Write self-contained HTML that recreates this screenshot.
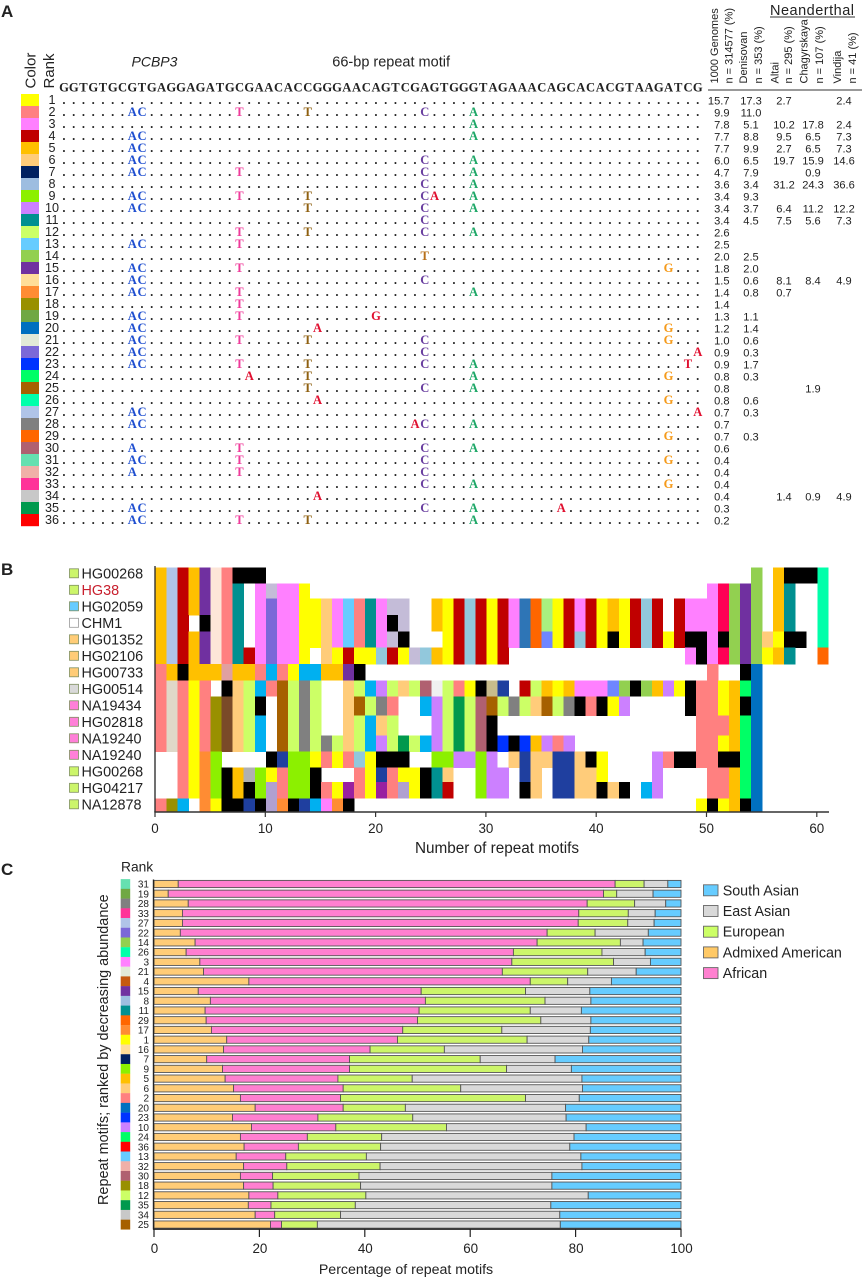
<!DOCTYPE html>
<html lang="en">
<head>
<meta charset="utf-8">
<title>PCBP3 66-bp repeat motif figure</title>
<style>
html,body{margin:0;padding:0;background:#fff;}
svg{display:block;position:absolute;left:0;top:0;}
text{font-family:"Liberation Sans",sans-serif;fill:#222;}
.serif{font-family:"Liberation Serif",serif;font-weight:bold;}
</style>
</head>
<body>
<svg id="fig" xmlns="http://www.w3.org/2000/svg" width="863" height="1280" viewBox="0 0 863 1280">
  <rect x="0" y="0" width="863" height="1280" fill="#fff"/>

  <text x="1" y="17" font-size="17" font-weight="bold" fill="#111">A</text>
  <text x="1" y="575" font-size="17" font-weight="bold" fill="#111">B</text>
  <text x="1" y="875" font-size="17" font-weight="bold" fill="#111">C</text>

  <g id="panel-a">
    <text transform="translate(35.5,88.5) rotate(-90)" font-size="15">Color</text>
    <text transform="translate(54,88.5) rotate(-90)" font-size="15">Rank</text>
    <text x="131.5" y="66.7" font-size="14" font-style="italic">PCBP3</text>
    <text x="332.3" y="66.7" font-size="14.5">66-bp repeat motif</text>

    <text transform="translate(718,83.5) rotate(-90)" font-size="11">1000 Genomes</text>
    <text transform="translate(732.5,83.5) rotate(-90)" font-size="11">n = 314577 (%)</text>
    <text transform="translate(747,83.5) rotate(-90)" font-size="11">Denisovan</text>
    <text transform="translate(762,83.5) rotate(-90)" font-size="11">n = 353 (%)</text>
    <text transform="translate(778.5,83.5) rotate(-90)" font-size="11">Altai</text>
    <text transform="translate(792,83.5) rotate(-90)" font-size="11">n = 295 (%)</text>
    <text transform="translate(807.5,83.5) rotate(-90)" font-size="11">Chagyrskaya</text>
    <text transform="translate(823,83.5) rotate(-90)" font-size="11">n = 107 (%)</text>
    <text transform="translate(841,83.5) rotate(-90)" font-size="11">Vindija</text>
    <text transform="translate(856,83.5) rotate(-90)" font-size="11">n = 41 (%)</text>

    <text x="770" y="15" font-size="14.5" textLength="84" lengthAdjust="spacing">Neanderthal</text>
    <line x1="770" y1="17" x2="855" y2="17" stroke="#333" stroke-width="1"/>
    <line x1="708" y1="90" x2="862" y2="90" stroke="#333" stroke-width="1"/>
  </g>

  <g id="panel-b">
    <text x="497" y="853" font-size="15.3" text-anchor="middle">Number of repeat motifs</text>
  </g>

  <g id="panel-c">
    <text x="121" y="871.7" font-size="13.8">Rank</text>
    <text transform="translate(108,1205) rotate(-90)" font-size="14.45">Repeat motifs; ranked by decreasing abundance</text>
    <text x="406" y="1274" font-size="14.2" text-anchor="middle">Percentage of repeat motifs</text>
  </g>
</svg>

<script>
// ---------- Panel A data ----------
var motifSequence = "GGTGTGCGTGAGGAGATGCGAACACCGGGAACAGTCGAGTGGGTAGAAACAGCACACGTAAGATCG";
var rankColors = ["#ffff00","#ff8080","#ff80ff","#c00000","#ffc000","#ffcc7a","#002060","#9dbde0","#8cf000","#cc80ff","#009090","#ccff66","#66ccff","#92d050","#7030a0","#ffdd99","#ff8c33","#999000","#70a844","#0070c0","#e2ead8","#7b68d8","#0033ff","#00ff66","#a66000","#00ffaa","#b0c4e8","#808080","#ff6600","#b06070","#66e0b0","#f0b0a8","#ff3399","#c8c8c8","#00994d","#ff0000"];
var motifVariants = [
  [],
  ["A7","C8","T18","T25","C37","A42"],
  ["A42"],
  ["A7","C8","A42"],
  ["A7","C8"],
  ["A7","C8","C37","A42"],
  ["A7","C8","T18","C37","A42"],
  ["C37","A42"],
  ["A7","C8","T18","T25","C37","A38","A42"],
  ["A7","C8","T25","C37","A42"],
  ["C37"],
  ["T18","T25","C37","A42"],
  ["A7","C8","T18"],
  ["T37"],
  ["A7","C8","T18","G62"],
  ["A7","C8","C37"],
  ["A7","C8","T18","A42"],
  ["T18"],
  ["A7","C8","T18","G32"],
  ["A7","C8","A26","G62"],
  ["A7","C8","T18","T25","C37","G62"],
  ["A7","C8","C37","A65"],
  ["A7","C8","T18","T25","C37","A42","T64"],
  ["A19","T25","A42","G62"],
  ["T25","C37","A42"],
  ["A26","G62"],
  ["A7","C8","A65"],
  ["A7","C8","A36","C37","A42"],
  ["G62"],
  ["A7","T18","C37","A42"],
  ["A7","C8","T18","C37","G62"],
  ["A7","T18","C37"],
  ["C37","A42","G62"],
  ["A26"],
  ["A7","C8","C37","A42","A51"],
  ["A7","C8","T18","T25","A42"]
];
var pct1000Genomes = ["15.7","9.9","7.8","7.7","7.7","6.0","4.7","3.6","3.4","3.4","3.4","2.6","2.5","2.0","1.8","1.5","1.4","1.4","1.3","1.2","1.0","0.9","0.9","0.8","0.8","0.8","0.7","0.7","0.7","0.6","0.4","0.4","0.4","0.4","0.3","0.2"];
var pctDenisovan = ["17.3","11.0","5.1","8.8","9.9","6.5","7.9","3.4","9.3","3.7","4.5","","","2.5","2.0","0.6","0.8","","1.1","1.4","0.6","0.3","1.7","0.3","","0.6","0.3","","0.3","","","","","","",""];
var pctAltai = ["2.7","","10.2","9.5","2.7","19.7","","31.2","","6.4","7.5","","","","","8.1","0.7","","","","","","","","","","","","","","","","","1.4","",""];
var pctChagyrskaya = ["","","17.8","6.5","6.5","15.9","0.9","24.3","","11.2","5.6","","","","","8.4","","","","","","","","","1.9","","","","","","","","","0.9","",""];
var pctVindija = ["2.4","","2.4","7.3","7.3","14.6","","36.6","","12.2","7.3","","","","","4.9","","","","","","","","","","","","","","","","","","4.9","",""];

// ---------- Panel B data: each number is a motif rank; 0 = no repeat, 99 = unassigned (black), 37+ = other observed motifs ----------
var extraMotifColors = {37:"#fde6d8",38:"#ff0055",39:"#92c8dc",40:"#2e75b6",41:"#a9f080",42:"#6f86ff",43:"#00b0f0",44:"#e0a0a0",45:"#e0d8c8",46:"#7a4a28",47:"#f0f0f0",48:"#c8bc8c",49:"#1f3f9f",50:"#c4bcd8",51:"#b0a0d0",52:"#9a20a0",53:"#b0b0b0",99:"#000000"};
var sampleNames = ["HG00268","HG38","HG02059","CHM1","HG01352","HG02106","HG00733","HG00514","NA19434","HG02818","NA19240","NA19240","HG00268","HG04217","NA12878"];
var sampleSwatches = ["#ccf56a","#ccf56a","#66ccff","#ffffff","#ffcc77","#ffcc77","#ffcc77","#d9d9d9","#ff80d8","#ff80d8","#ff80d8","#ff80d8","#ccf56a","#ccf56a","#ccf56a"];
var repeatsS0 = [5,27,4,5,15,37,2,99,99,99,0,0,0,0,0,0,0,0,0,0,0,0,0,0,0,0,0,0,0,0,0,0,0,0,0,0,0,0,0,0,0,0,0,0,0,0,0,0,0,0,0,0,0,0,14,0,5,99,99,99,26];
var repeatsS1 = [5,27,4,5,15,37,2,11,0,3,50,3,3,1,0,0,0,0,0,0,0,0,0,0,0,0,0,0,0,0,0,0,0,0,0,0,0,0,0,0,0,0,0,0,0,0,0,0,0,0,3,38,14,15,14,0,5,11,0,0,26];
var repeatsS2 = [5,27,4,5,15,37,2,11,0,3,22,3,3,1,1,6,3,13,2,11,3,50,50,0,0,5,1,4,39,4,1,4,3,40,29,41,1,4,3,4,1,5,1,4,39,4,0,4,3,3,3,38,14,15,14,0,5,11,0,0,26];
var repeatsS3 = [5,27,4,0,99,37,2,11,0,3,22,3,3,1,1,6,3,13,2,11,3,99,50,0,0,5,1,4,39,4,1,4,3,40,29,41,1,4,3,4,1,5,1,4,39,4,0,4,3,3,3,38,14,15,14,0,5,11,0,0,26];
var repeatsS4 = [5,27,4,5,15,37,2,11,0,3,22,3,3,1,1,6,3,13,2,11,3,50,99,0,0,0,1,4,39,4,1,4,3,40,29,42,1,4,39,4,1,99,1,4,39,4,1,4,99,99,3,99,14,15,14,6,1,99,99,0,26];
var repeatsS5 = [5,27,4,5,15,37,2,11,4,3,22,3,3,1,0,6,1,4,1,1,39,4,1,50,39,5,1,4,39,4,1,4,0,0,0,0,0,0,0,0,0,0,0,0,0,0,0,0,3,99,3,38,14,15,14,1,5,11,0,0,29];
var repeatsS6 = [2,5,99,5,5,5,44,5,5,2,43,2,1,43,43,5,5,15,99,0,0,0,0,0,0,0,0,0,0,0,0,0,0,0,0,0,0,0,0,0,0,0,0,0,0,0,0,0,0,0,2,0,0,99,20];
var repeatsS7 = [2,45,2,1,2,0,99,6,12,43,2,25,12,28,12,0,0,6,12,43,10,12,6,12,30,47,12,2,1,99,48,49,0,4,12,5,1,5,3,3,3,42,14,99,14,5,10,1,99,2,2,1,5,24,20];
var repeatsS8 = [2,45,2,1,2,18,46,6,12,99,0,25,12,28,12,0,0,6,25,12,28,2,0,0,43,10,12,35,12,30,25,12,28,12,6,25,12,28,99,2,99,1,10,0,0,0,0,0,99,2,2,1,5,99,20];
var repeatsS9 = [2,45,2,1,2,18,46,6,12,43,0,25,12,28,12,0,0,6,12,43,6,12,0,0,0,10,12,35,12,30,99,0,0,0,0,0,0,0,0,0,0,0,0,0,0,0,0,0,0,2,2,2,5,24,20];
var repeatsS10 = [2,45,2,1,2,18,46,6,12,43,0,25,12,28,12,28,12,6,12,43,10,12,35,12,43,10,12,35,12,30,99,23,99,23,5,10,2,10,0,0,0,0,0,0,0,0,0,0,0,2,2,1,5,24,20];
var repeatsS11 = [0,0,2,1,17,9,0,0,0,0,99,49,9,9,1,2,1,2,39,1,99,99,99,0,0,9,9,10,10,9,10,0,6,49,6,6,49,49,6,99,1,0,0,0,0,10,2,99,99,2,2,99,99,24,20];
var repeatsS12 = [0,0,2,1,17,9,99,5,53,9,1,2,9,9,99,0,0,0,2,1,49,2,1,1,99,11,6,0,0,9,10,10,0,49,6,0,49,49,6,6,1,0,0,0,0,10,0,0,0,0,2,2,5,24,20];
var repeatsS13 = [0,0,2,1,17,9,99,5,99,9,51,2,9,9,99,2,1,52,2,1,52,2,51,1,99,11,4,0,0,9,10,10,0,99,6,0,49,49,6,6,99,6,99,0,43,10,0,0,0,0,2,2,5,24,20];
var repeatsS14 = [2,18,43,0,17,1,99,99,49,99,51,17,99,49,43,3,17,99,0,0,0,0,0,0,0,0,0,0,0,0,0,0,0,0,0,0,0,0,0,0,0,0,0,0,0,0,0,0,0,1,99,1,5,99,20];
var repeatTicks = [0,10,20,30,40,50,60];

// ---------- Panel C data (cumulative percentages along each bar) ----------
var barRanks = [31,19,28,33,27,22,14,26,3,21,4,15,8,11,29,17,1,16,7,9,5,6,2,20,23,10,24,36,13,32,30,18,12,35,34,25];
var cumAdmixedAmerican = [4.6,2.7,6.5,5.4,5.4,5.0,7.8,6.1,8.7,9.4,18.0,8.4,10.7,9.7,9.9,10.9,13.8,13.2,10.0,13.0,13.5,15.1,16.4,19.2,14.9,18.5,16.4,17.1,15.6,17.0,16.4,17.0,18.0,17.9,19.2,22.1];
var cumAfrican = [87.5,85.3,82.2,80.6,80.5,74.6,72.7,68.2,67.9,66.1,71.4,50.7,51.5,50.3,50.0,47.2,46.2,41.0,37.1,37.1,34.9,35.9,35.4,35.9,31.1,34.5,29.1,27.4,25.0,25.2,22.5,22.6,23.5,22.2,22.9,24.2];
var cumEuropean = [93.0,87.8,91.2,90.0,89.9,83.7,88.5,85.0,87.2,82.3,78.5,70.5,74.2,71.4,73.4,66.0,70.8,55.1,61.9,66.9,49.0,58.2,70.5,47.7,49.1,55.5,43.2,43.0,40.3,42.9,38.9,39.2,40.2,38.2,35.4,31.0];
var cumEastAsian = [97.5,94.7,97.1,95.1,94.9,93.8,92.8,93.2,94.2,91.5,86.8,82.7,82.9,81.1,82.9,82.8,82.5,81.3,76.1,79.2,81.2,81.3,80.7,78.1,78.2,82.0,79.7,78.9,81.0,81.2,75.5,75.5,82.4,75.3,77.0,77.1];
var percentTicks = [0,20,40,60,80,100];
var legendNames = ["South Asian","East Asian","European","Admixed American","African"];
var legendColors = ["#66ccff","#d9d9d9","#ccff66","#ffc966","#ff80d0"];

// ---------- Helpers ----------
var NS = "http://www.w3.org/2000/svg";
function mk(tag, attrs, parent, txt){
  var el = document.createElementNS(NS, tag);
  for (var k in attrs) el.setAttribute(k, attrs[k]);
  if (txt !== undefined) el.textContent = txt;
  parent.appendChild(el);
  return el;
}
var panelA = document.getElementById("panel-a");
var panelB = document.getElementById("panel-b");
var panelC = document.getElementById("panel-c");

// ---------- Panel A ----------
function colX(c){ return 64 + 9.75 * c; }
function rowBase(i){ return 104 + 12 * i; }
function rowTop(i){ return 94 + 12 * i; }
function variantColor(letter, col){
  if (col === 7 || col === 8) return "#1f4fd0";
  if (col === 18 && letter === "T") return "#ef3a9a";
  if (col === 25 && letter === "T") return "#8f6010";
  if (col === 37 && letter === "C") return "#6a3fa0";
  if (col === 37 && letter === "T") return "#b8701a";
  if (col === 42) return "#1fa868";
  if (col === 62) return "#f59a1a";
  return "#e01030";
}
var seqXs = [];
for (var s = 0; s < motifSequence.length; s++) seqXs.push(colX(s));
var seqEl = mk("text", {x: seqXs.join(" "), y: 91.7, "font-size": 12.6, "text-anchor": "middle", "class": "serif", fill: "#111"}, panelA, motifSequence);



var tableColumns = [
  {vals: pct1000Genomes, x: 729.5, anchor: "end"},
  {vals: pctDenisovan, x: 751, anchor: "middle"},
  {vals: pctAltai, x: 784, anchor: "middle"},
  {vals: pctChagyrskaya, x: 813, anchor: "middle"},
  {vals: pctVindija, x: 844, anchor: "middle"}
];

rankColors.forEach(function(color, i){
  var sw = mk("rect", {x: 21, y: rowTop(i), width: 18, height: 12.2, fill: color}, panelA);
  
  

  var rl = mk("text", {x: 52, y: rowBase(i) - 0.2, "font-size": 12.6, "text-anchor": "middle"}, panelA, String(i + 1));
  
  

  var used = {};
  motifVariants[i].forEach(function(v){
    var letter = v.charAt(0), col = parseInt(v.slice(1), 10);
    used[col] = true;
    var t = mk("text", {x: colX(col), y: rowBase(i), "font-size": 12.6, "text-anchor": "middle", "class": "serif", style: "fill:" + variantColor(letter, col)}, panelA, letter);
    
    
  });
  var xs = [], dots = "";
  for (var c = 0; c < motifSequence.length; c++) {
    if (!used[c]) { xs.push(colX(c)); dots += "."; }
  }
  var d = mk("text", {x: xs.join(" "), y: rowBase(i), "font-size": 12.6, "text-anchor": "middle", "class": "serif", fill: "#111"}, panelA, dots);
  
  

  tableColumns.forEach(function(tc){
    if (tc.vals[i] === "") return;
    var v = mk("text", {x: tc.x, y: rowBase(i) + 0.5, "font-size": 11.1, "text-anchor": tc.anchor, fill: "#333"}, panelA, tc.vals[i]);
    
    
  });
});

// ---------- Panel B ----------
var bX = function(v){ return 155.5 + 11.03 * v; };
var bTop = 567.33;
function bRowSpan(i){
  // layout: sample rows in the figure are not all equally tall (thirds of a pixel)
  return [48,46,49,49,49,49,49,48,58,59,49,48,43,49,40][i] / 3;
}
function bY(i){
  var y = bTop;
  for (var n = 0; n < i; n++) y += bRowSpan(n);
  return y;
}
function motifColor(code){ return code <= 36 ? rankColors[code - 1] : extraMotifColors[code]; }
var sampleRepeats = [repeatsS0,repeatsS1,repeatsS2,repeatsS3,repeatsS4,repeatsS5,repeatsS6,repeatsS7,repeatsS8,repeatsS9,repeatsS10,repeatsS11,repeatsS12,repeatsS13,repeatsS14];
sampleRepeats.forEach(function(row, r){
  row.forEach(function(code, c){
    if (code === 0) return;
    var cell = mk("rect", {x: bX(c), y: bY(r), width: 11.03 + 0.3, height: bRowSpan(r) + 0.3, fill: motifColor(code), "shape-rendering": "crispEdges"}, panelB);
    
    
  });
});
sampleNames.forEach(function(name, i){
  var cy = 573.3 + 16.5 * i;
  var sw = mk("rect", {x: 69.5, y: cy - 4.5, width: 9, height: 9, fill: sampleSwatches[i], stroke: i === 3 ? "#999" : "#7f8f60", "stroke-width": 0.8}, panelB);
  
  
  var lb = mk("text", {x: 81.5, y: cy + 5, "font-size": 14.4, style: i === 1 ? "fill:#c8202e" : "fill:#222"}, panelB, name);
  
  
});
var bYAxis = mk("line", {x1: 155, y1: 566, x2: 155, y2: 812, stroke: "#333", "stroke-width": 1.4}, panelB);


var bXAxis = mk("line", {x1: 154.3, y1: 812, x2: 829, y2: 812, stroke: "#333", "stroke-width": 1.4}, panelB);


repeatTicks.forEach(function(t){
  var tx = 155 + 11.03 * t;
  var tk = mk("line", {x1: tx, y1: 812, x2: tx, y2: 817, stroke: "#333", "stroke-width": 1.2}, panelB);
  
  
  var tl = mk("text", {x: tx, y: 833, "font-size": 13.4, "text-anchor": "middle"}, panelB, String(t));
  
  
});

// ---------- Panel C ----------
var cX = function(v){ return 154 + 5.27 * v; };
function cY(i){ return 884 + 9.73 * i; }
var stackColors = ["#ffcc77","#ff7fd0","#ccf56a","#d9d9d9","#66ccff"];
var stackNames = ["admixed-american","african","european","east-asian","south-asian"];
var rankColorsC = rankColors.slice();
rankColorsC[3] = "#c55a11";
barRanks.forEach(function(rank, i){
  var edges = [0, cumAdmixedAmerican[i], cumAfrican[i], cumEuropean[i], cumEastAsian[i], 100];
  for (var k = 0; k < 5; k++) {
    var seg = mk("rect", {x: cX(edges[k]), y: cY(i) - 3.6, width: cX(edges[k + 1]) - cX(edges[k]), height: 7.2, fill: stackColors[k], stroke: "#555", "stroke-width": 0.9}, panelC);
    
    
  }
  var sw = mk("rect", {x: 120.7, y: cY(i) - 4.9, width: 9.5, height: 9.9, fill: rankColorsC[rank - 1]}, panelC);
  
  
  var lb = mk("text", {x: 149, y: cY(i) + 3.6, "font-size": 10, "text-anchor": "end"}, panelC, String(rank));
  
  
});
var cYAxis = mk("line", {x1: 153.5, y1: 879.5, x2: 153.5, y2: 1229.5, stroke: "#222", "stroke-width": 1.4}, panelC);


var cXAxis = mk("line", {x1: 153, y1: 1229.2, x2: 681.5, y2: 1229.2, stroke: "#222", "stroke-width": 1.4}, panelC);


percentTicks.forEach(function(t){
  var tx = cX(t);
  var tk = mk("line", {x1: tx, y1: 1229, x2: tx, y2: 1237, stroke: "#222", "stroke-width": 1.2}, panelC);
  
  
  var tl = mk("text", {x: tx + 0.5, y: 1253, "font-size": 13.4, "text-anchor": "middle"}, panelC, String(t));
  
  
});
legendNames.forEach(function(name, i){
  var cy = 890.3 + 20.7 * i;
  var sw = mk("rect", {x: 703.5, y: cy - 5.5, width: 14.5, height: 11, fill: legendColors[i], stroke: "#666", "stroke-width": 0.9}, panelC);
  
  
  var lb = mk("text", {x: 722.7, y: cy + 5, "font-size": 14.3}, panelC, name);
  
  
});
</script>
</body>
</html>
